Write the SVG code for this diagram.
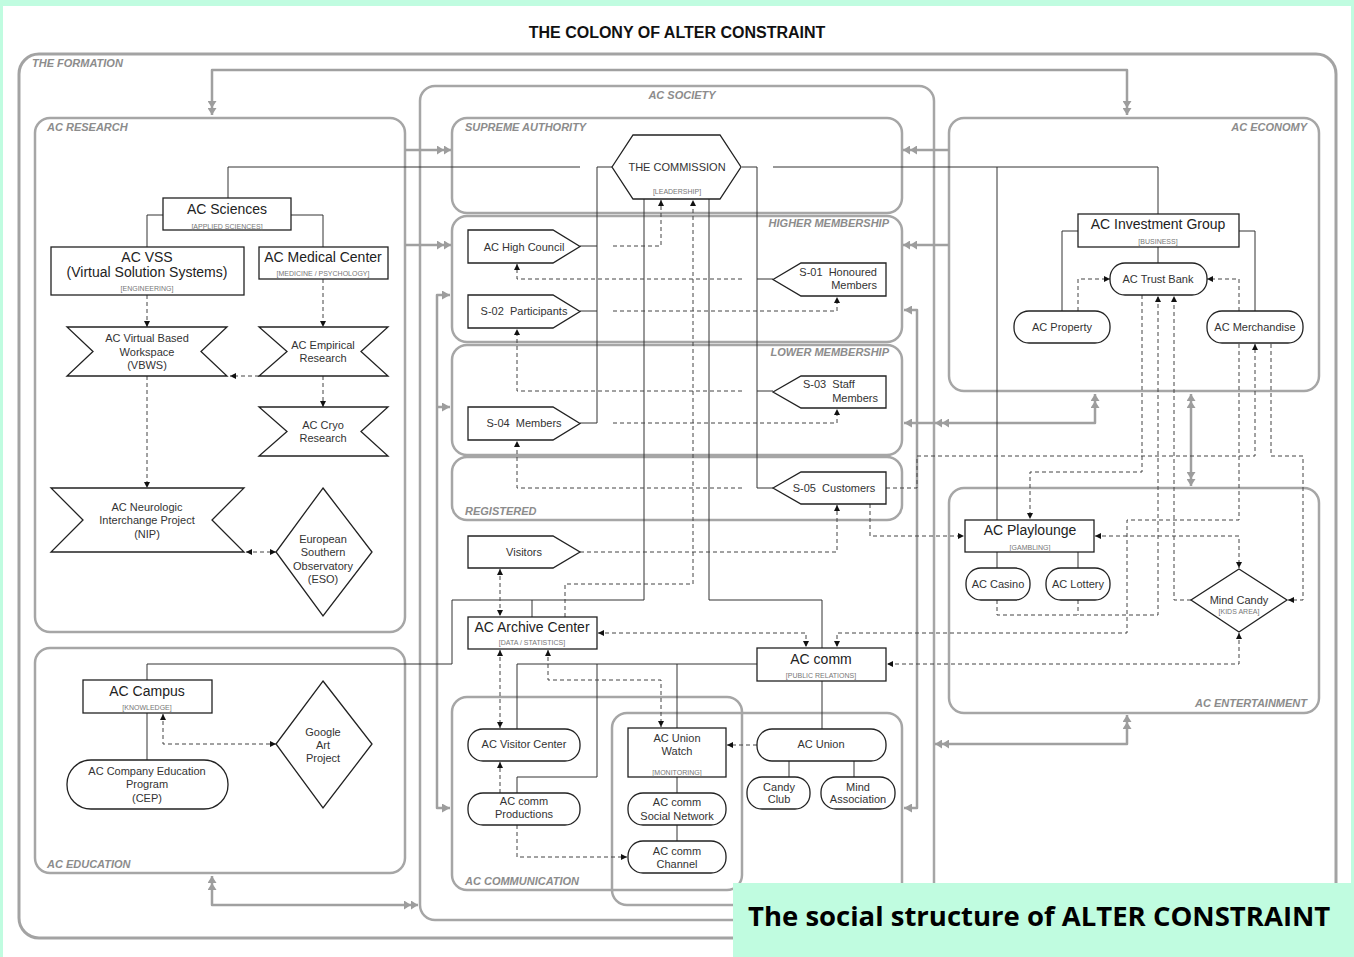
<svg xmlns="http://www.w3.org/2000/svg" width="1354" height="957" viewBox="0 0 1354 957">
<style>
.cont{fill:none;stroke:#a6a6a6;stroke-width:2.5}
.frame{fill:none;stroke:#a3a3a3;stroke-width:3}
.cl{font-family:"Liberation Sans",Arial,sans-serif;font-size:11px;font-style:italic;font-weight:bold;fill:#8c8c8c}
.n{fill:#fff;stroke:#222;stroke-width:1.3}
.t{font-family:"Liberation Sans",Arial,sans-serif;font-size:11px;fill:#333;text-anchor:middle}
.tb{font-size:14px;fill:#222}
.ts{font-size:7px;fill:#777}
.sl{fill:none;stroke:#333;stroke-width:1}
.dl{fill:none;stroke:#444;stroke-width:1;stroke-dasharray:4 3}
.gl{fill:none;stroke:#a0a0a0;stroke-width:2.5;stroke-linejoin:round}
.pre{white-space:pre}
</style>
<defs>
<marker id="a" viewBox="0 0 8 8" refX="8" refY="4" markerWidth="6" markerHeight="6" markerUnits="userSpaceOnUse" orient="auto-start-reverse"><path d="M0,0 L8,4 L0,8 z" fill="#111"/></marker>
<marker id="g2" viewBox="0 0 14 9" refX="14" refY="4.5" markerWidth="14" markerHeight="9" markerUnits="userSpaceOnUse" orient="auto-start-reverse"><path d="M0,0 L7,4.5 L0,9 z M7,0 L14,4.5 L7,9 z" fill="#9d9d9d"/></marker>
<marker id="g1" viewBox="0 0 8 9" refX="8" refY="4.5" markerWidth="8" markerHeight="9" markerUnits="userSpaceOnUse" orient="auto-start-reverse"><path d="M0,0 L8,4.5 L0,9 z" fill="#9d9d9d"/></marker>
</defs>
<rect x="0" y="0" width="1354" height="957" fill="#c0fce0"/>
<rect x="3" y="6" width="1348" height="951" fill="#fff"/>
<text x="677" y="38" font-family="Liberation Sans,Arial,sans-serif" font-size="16" font-weight="bold" fill="#111" text-anchor="middle">THE COLONY OF ALTER CONSTRAINT</text>

<g id="containers">
<rect class="frame" x="19" y="54" width="1317" height="884" rx="20"/>
<text class="cl" x="32" y="67">THE FORMATION</text>
<rect class="cont" x="35" y="118" width="370" height="514" rx="15"/>
<text class="cl" x="47" y="131">AC RESEARCH</text>
<rect class="cont" x="35" y="648" width="370" height="225" rx="15"/>
<text class="cl" x="47" y="868">AC EDUCATION</text>
<rect class="cont" x="420" y="86" width="514" height="834" rx="15"/>
<text class="cl" x="682" y="99" text-anchor="middle">AC SOCIETY</text>
<rect class="cont" x="452" y="118" width="450" height="95" rx="15"/>
<text class="cl" x="465" y="131">SUPREME AUTHORITY</text>
<rect class="cont" x="452" y="216" width="450" height="126" rx="15"/>
<text class="cl" x="889" y="227" text-anchor="end">HIGHER MEMBERSHIP</text>
<rect class="cont" x="452" y="345" width="450" height="110" rx="15"/>
<text class="cl" x="889" y="356" text-anchor="end">LOWER MEMBERSHIP</text>
<rect class="cont" x="452" y="457" width="450" height="63" rx="15"/>
<text class="cl" x="465" y="515">REGISTERED</text>
<rect class="cont" x="452" y="697" width="290" height="193" rx="15"/>
<text class="cl" x="465" y="885">AC COMMUNICATION</text>
<rect class="cont" x="612" y="713" width="290" height="192" rx="15"/>
<rect class="cont" x="949" y="118" width="370" height="273" rx="15"/>
<text class="cl" x="1307" y="131" text-anchor="end">AC ECONOMY</text>
<rect class="cont" x="949" y="488" width="370" height="225" rx="15"/>
<text class="cl" x="1307" y="707" text-anchor="end">AC ENTERTAINMENT</text>
</g>

<g id="connectors">
<path class="gl" d="M212,115 V70 H1127 V115" marker-start="url(#g2)" marker-end="url(#g2)"/>
<path class="gl" d="M405,150 H451" marker-end="url(#g2)"/>
<path class="gl" d="M405,245 H451" marker-end="url(#g2)"/>
<path class="gl" d="M949,150 H903" marker-end="url(#g2)"/>
<path class="gl" d="M949,245 H903" marker-end="url(#g2)"/>
<path class="gl" d="M212,876 V905 H418" marker-start="url(#g2)" marker-end="url(#g2)"/>
<path class="gl" d="M1095,394 V423 H935" marker-start="url(#g2)" marker-end="url(#g2)"/>
<path class="gl" d="M935,423 H917"/>
<path class="gl" d="M1127,715 V744 H935" marker-start="url(#g2)" marker-end="url(#g2)"/>
<path class="gl" d="M1191,394 V486" marker-start="url(#g2)" marker-end="url(#g2)"/>
<path class="gl" d="M450,295 H437 V808 H450" marker-start="url(#g1)" marker-end="url(#g1)"/>
<path class="gl" d="M437,407 H450" marker-end="url(#g1)"/>
<path class="gl" d="M904,310 H917 V808 H904" marker-start="url(#g1)" marker-end="url(#g1)"/>
<path class="gl" d="M917,423 H904" marker-end="url(#g1)"/>
<path class="sl" d="M228,198 V167 H580"/>
<path class="sl" d="M612,167 H597 V423 H580"/>
<path class="sl" d="M580,246 H597 M580,311 H597"/>
<path class="sl" d="M742,167 H757 V488 H773 M757,279 H773 M757,391 H773"/>
<path class="sl" d="M773,167 H1158 V214"/>
<path class="sl" d="M997,167 V520"/>
<path class="sl" d="M644,199 V600 H452 V664 H147 V680 M532,617 V600"/>
<path class="sl" d="M709,199 V600 H822 V648"/>
<path class="sl" d="M757,664 H517 V729 M597,664 V777 H517 V793 M677,664 V728"/>
<path class="sl" d="M822,681 V729 M789,761 V777 M854,761 V777"/>
<path class="sl" d="M677,777 V793 M677,825 V841"/>
<path class="sl" d="M163,215 H147 V247 M291,215 H323 V247"/>
<path class="sl" d="M147,713 V760"/>
<path class="sl" d="M1078,231 H1062 V311 M1239,231 H1255 V311 M1158,247 V263"/>
<path class="sl" d="M997,552 V568 M1078,552 V568"/>
<path class="dl" d="M147,295 V327" marker-end="url(#a)"/>
<path class="dl" d="M323,279 V327" marker-end="url(#a)"/>
<path class="dl" d="M259,376 H230" marker-end="url(#a)"/>
<path class="dl" d="M323,376 V407" marker-end="url(#a)"/>
<path class="dl" d="M147,376 V488" marker-end="url(#a)"/>
<path class="dl" d="M246,552 H276" marker-start="url(#a)" marker-end="url(#a)"/>
<path class="dl" d="M163,714 V744 H276" marker-start="url(#a)" marker-end="url(#a)"/>
<path class="dl" d="M613,246 H661 V200" marker-end="url(#a)"/>
<path class="dl" d="M565,617 V584 H693 V200" marker-end="url(#a)"/>
<path class="dl" d="M742,279 H517 V264" marker-end="url(#a)"/>
<path class="dl" d="M613,311 H837 V297" marker-end="url(#a)"/>
<path class="dl" d="M742,391 H517 V329" marker-end="url(#a)"/>
<path class="dl" d="M613,423 H837 V409" marker-end="url(#a)"/>
<path class="dl" d="M742,488 H517 V441" marker-end="url(#a)"/>
<path class="dl" d="M580,552 H837 V505" marker-end="url(#a)"/>
<path class="dl" d="M500,569 V616" marker-start="url(#a)" marker-end="url(#a)"/>
<path class="dl" d="M500,650 V728" marker-start="url(#a)" marker-end="url(#a)"/>
<path class="dl" d="M548,650 V680 H661 V727" marker-start="url(#a)" marker-end="url(#a)"/>
<path class="dl" d="M598,633 H806 V647" marker-start="url(#a)" marker-end="url(#a)"/>
<path class="dl" d="M1239,344 V520 H1127 V633 H837 V647" marker-end="url(#a)"/>
<path class="dl" d="M1239,633 V664 H887" marker-start="url(#a)" marker-end="url(#a)"/>
<path class="dl" d="M870,504 V536 H964" marker-end="url(#a)"/>
<path class="dl" d="M886,488 H917 V456 H1255 V344" marker-end="url(#a)"/>
<path class="dl" d="M1095,536 H1239 V568" marker-start="url(#a)" marker-end="url(#a)"/>
<path class="dl" d="M1078,311 V279 H1110" marker-end="url(#a)"/>
<path class="dl" d="M1239,311 V279 H1207" marker-end="url(#a)"/>
<path class="dl" d="M1142,295 V472 H1030 V519" marker-end="url(#a)"/>
<path class="dl" d="M997,600 V615 H1158 V296" marker-end="url(#a)"/>
<path class="dl" d="M1078,600 V615"/>
<path class="dl" d="M1191,600 H1174 V296" marker-end="url(#a)"/>
<path class="dl" d="M1271,344 V456 H1303 V600 H1288" marker-end="url(#a)"/>
<path class="dl" d="M757,745 H727" marker-end="url(#a)"/>
<path class="dl" d="M500,793 V762" marker-end="url(#a)"/>
<path class="dl" d="M517,825 V857 H627" marker-end="url(#a)"/>
</g>

<g id="commission"><polygon class="n" points="612,167 633,135 720,135 741,167 720,199 633,199"/><text class="t" x="677" y="171">THE COMMISSION</text><text class="t ts" x="677" y="194">[LEADERSHIP]</text></g>
<g id="high-council"><polygon class="n" points="468,230 553,230 580,246.5 553,263 468,263"/><text class="t" x="524" y="251">AC High Council</text></g>
<g id="s02"><polygon class="n" points="468,295 553,295 580,311.5 553,328 468,328"/><text class="t pre" x="524" y="315">S-02  Participants</text></g>
<g id="s04"><polygon class="n" points="468,407 553,407 580,423.5 553,440 468,440"/><text class="t pre" x="524" y="427">S-04  Members</text></g>
<g id="visitors"><polygon class="n" points="468,536 553,536 580,552 553,568 468,568"/><text class="t" x="524" y="556">Visitors</text></g>
<g id="s01"><polygon class="n" points="773,279.5 801,263 886,263 886,296 801,296"/><text class="t pre" x="877" y="276" style="text-anchor:end">S-01  Honoured</text><text class="t" x="877" y="289" style="text-anchor:end">Members</text></g>
<g id="s03"><polygon class="n" points="773,392 801,376 886,376 886,408 801,408"/><text class="t pre" x="803" y="388" style="text-anchor:start">S-03  Staff</text><text class="t" x="878" y="402" style="text-anchor:end">Members</text></g>
<g id="s05"><polygon class="n" points="773,488 801,472 886,472 886,504 801,504"/><text class="t pre" x="834" y="492">S-05  Customers</text></g>

<g id="ac-sciences"><rect class="n" x="163" y="198" width="128" height="32"/><text class="t tb" x="227" y="214">AC Sciences</text><text class="t ts" x="227" y="229">[APPLIED SCIENCES]</text></g>
<g id="ac-vss"><rect class="n" x="51" y="247" width="193" height="48"/><text class="t tb" x="147" y="262">AC VSS</text><text class="t tb" x="147" y="277">(Virtual Solution Systems)</text><text class="t ts" x="147" y="291">[ENGINEERING]</text></g>
<g id="ac-medical"><rect class="n" x="259" y="247" width="129" height="32"/><text class="t tb" x="323" y="262">AC Medical Center</text><text class="t ts" x="323" y="276">[MEDICINE / PSYCHOLOGY]</text></g>
<g id="vbws"><polygon class="n" points="67,327 227,327 201,351.5 227,376 67,376 93,351.5"/><text class="t" x="147" y="342">AC Virtual Based</text><text class="t" x="147" y="356">Workspace</text><text class="t" x="147" y="369">(VBWS)</text></g>
<g id="empirical"><polygon class="n" points="259,327 388,327 361,351.5 388,376 259,376 287,351.5"/><text class="t" x="323" y="349">AC Empirical</text><text class="t" x="323" y="362">Research</text></g>
<g id="cryo"><polygon class="n" points="259,407 388,407 361,431.5 388,456 259,456 287,431.5"/><text class="t" x="323" y="429">AC Cryo</text><text class="t" x="323" y="442">Research</text></g>
<g id="nip"><polygon class="n" points="51,488 244,488 212,520 244,552 51,552 83,520"/><text class="t" x="147" y="511">AC Neurologic</text><text class="t" x="147" y="524">Interchange Project</text><text class="t" x="147" y="538">(NIP)</text></g>
<g id="eso"><polygon class="n" points="323,488 372,552 323,616 276,552"/><text class="t" x="323" y="543">European</text><text class="t" x="323" y="556">Southern</text><text class="t" x="323" y="570">Observatory</text><text class="t" x="323" y="583">(ESO)</text></g>

<g id="ac-campus"><rect class="n" x="83" y="680" width="129" height="33"/><text class="t tb" x="147" y="696">AC Campus</text><text class="t ts" x="147" y="710">[KNOWLEDGE]</text></g>
<g id="cep"><rect class="n" x="67" y="760" width="161" height="49" rx="24"/><text class="t" x="147" y="775">AC Company Education</text><text class="t" x="147" y="788">Program</text><text class="t" x="147" y="802">(CEP)</text></g>
<g id="google"><polygon class="n" points="323,681 372,744 323,808 276,744"/><text class="t" x="323" y="736">Google</text><text class="t" x="323" y="749">Art</text><text class="t" x="323" y="762">Project</text></g>

<g id="archive"><rect class="n" x="468" y="617" width="129" height="32"/><text class="t tb" x="532" y="632">AC Archive Center</text><text class="t ts" x="532" y="645">[DATA / STATISTICS]</text></g>
<g id="ac-comm"><rect class="n" x="757" y="648" width="129" height="33"/><text class="t tb" x="821" y="664">AC comm</text><text class="t ts" x="821" y="678">[PUBLIC RELATIONS]</text></g>
<g id="visitor-center"><rect class="n" x="468" y="729" width="112" height="32" rx="15"/><text class="t" x="524" y="748">AC Visitor Center</text></g>
<g id="productions"><rect class="n" x="468" y="793" width="112" height="32" rx="15"/><text class="t" x="524" y="805">AC comm</text><text class="t" x="524" y="818">Productions</text></g>
<g id="union-watch"><rect class="n" x="628" y="728" width="98" height="49"/><text class="t" x="677" y="742">AC Union</text><text class="t" x="677" y="755">Watch</text><text class="t ts" x="677" y="775">[MONITORING]</text></g>
<g id="social-network"><rect class="n" x="628" y="793" width="98" height="32" rx="15"/><text class="t" x="677" y="806">AC comm</text><text class="t" x="677" y="820">Social Network</text></g>
<g id="channel"><rect class="n" x="628" y="841" width="98" height="32" rx="15"/><text class="t" x="677" y="855">AC comm</text><text class="t" x="677" y="868">Channel</text></g>
<g id="ac-union"><rect class="n" x="757" y="729" width="129" height="32" rx="15"/><text class="t" x="821" y="748">AC Union</text></g>
<g id="candy-club"><rect class="n" x="747" y="777" width="63" height="32" rx="15"/><text class="t" x="779" y="791">Candy</text><text class="t" x="779" y="803">Club</text></g>
<g id="mind-association"><rect class="n" x="821" y="777" width="74" height="32" rx="15"/><text class="t" x="858" y="791">Mind</text><text class="t" x="858" y="803">Association</text></g>

<g id="investment"><rect class="n" x="1078" y="214" width="161" height="33"/><text class="t tb" x="1158" y="229">AC Investment Group</text><text class="t ts" x="1158" y="244">[BUSINESS]</text></g>
<g id="trust-bank"><rect class="n" x="1110" y="263" width="97" height="32" rx="15"/><text class="t" x="1158" y="283">AC Trust Bank</text></g>
<g id="property"><rect class="n" x="1014" y="311" width="96" height="32" rx="15"/><text class="t" x="1062" y="331">AC Property</text></g>
<g id="merchandise"><rect class="n" x="1207" y="311" width="96" height="32" rx="15"/><text class="t" x="1255" y="331">AC Merchandise</text></g>
<g id="playlounge"><rect class="n" x="965" y="520" width="129" height="32"/><text class="t tb" x="1030" y="535">AC Playlounge</text><text class="t ts" x="1030" y="550">[GAMBLING]</text></g>
<g id="casino"><rect class="n" x="966" y="568" width="64" height="32" rx="15"/><text class="t" x="998" y="588">AC Casino</text></g>
<g id="lottery"><rect class="n" x="1046" y="568" width="64" height="32" rx="15"/><text class="t" x="1078" y="588">AC Lottery</text></g>
<g id="mind-candy"><polygon class="n" points="1239,569 1287,600 1239,632 1191,600"/><text class="t" x="1239" y="604">Mind Candy</text><text class="t ts" x="1239" y="614">[KIDS AREA]</text></g>

<g id="caption"><rect x="733" y="883" width="621" height="74" fill="#c0fce0"/><text x="748" y="926" font-family="Open Sans,Noto Sans,sans-serif" font-size="27.5" font-weight="bold" fill="#000">The social structure of ALTER CONSTRAINT</text></g>
</svg>
